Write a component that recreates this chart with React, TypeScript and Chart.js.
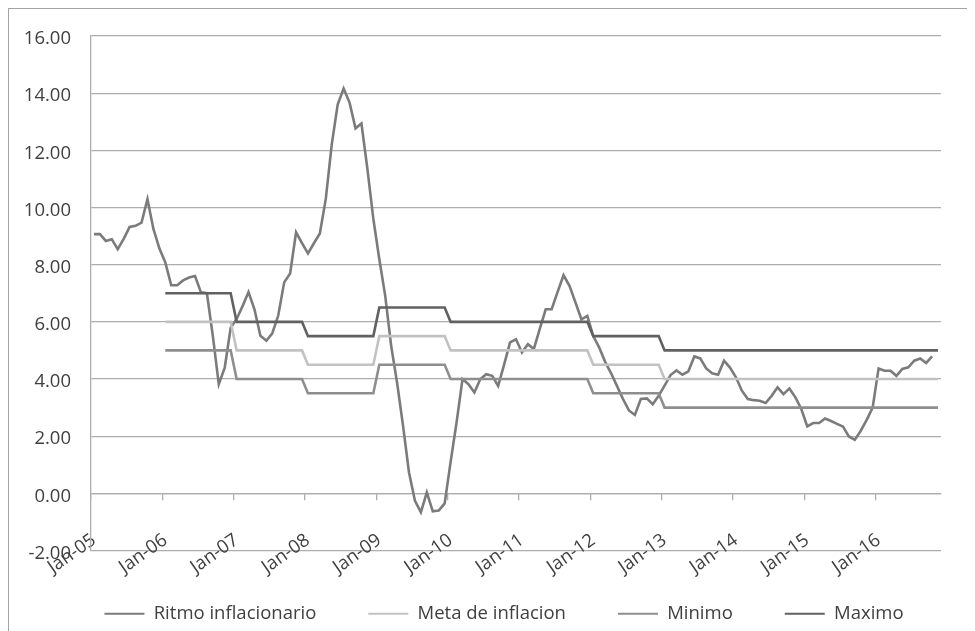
import React, { useEffect, useRef } from 'react';
import { Chart, registerables } from 'chart.js';

Chart.register(...registerables);

// Monthly categories, Jan-05 through Nov-16
const monthNames = ['Jan', 'Feb', 'Mar', 'Apr', 'May', 'Jun', 'Jul', 'Aug', 'Sep', 'Oct', 'Nov', 'Dec'];
const yearSuffixes = ['05', '06', '07', '08', '09', '10', '11', '12', '13', '14', '15', '16'];
const lastCategory = 'Nov-16';

const allMonths: string[] = [];
for (const yy of yearSuffixes) {
  for (const m of monthNames) allMonths.push(`${m}-${yy}`);
}
const categories = allMonths.slice(0, allMonths.indexOf(lastCategory) + 1);

// Interannual inflation rate (%), one value per month from Jan-05
const ritmoInflacionario = [
  9.07, 9.07, 8.83, 8.89, 8.54, 8.9, 9.32, 9.36, 9.47, 10.29, 9.25, 8.57, // 2005
  8.08, 7.28, 7.28, 7.45, 7.55, 7.6, 7.03, 7.0, 5.5, 3.82, 4.4, 5.79, // 2006
  6.1, 6.55, 7.04, 6.44, 5.51, 5.34, 5.6, 6.22, 7.38, 7.69, 9.13, 8.75, // 2007
  8.39, 8.75, 9.09, 10.3, 12.2, 13.6, 14.16, 13.67, 12.77, 12.94, 11.35, 9.6, // 2008
  8.2, 6.91, 5.16, 3.86, 2.36, 0.73, -0.26, -0.66, 0.03, -0.63, -0.6, -0.35, // 2009
  1.1, 2.48, 4.0, 3.82, 3.53, 4.0, 4.17, 4.11, 3.76, 4.5, 5.28, 5.39, // 2010
  4.93, 5.22, 5.05, 5.75, 6.44, 6.44, 7.05, 7.63, 7.26, 6.68, 6.09, 6.21, // 2011
  5.5, 5.1, 4.6, 4.2, 3.75, 3.3, 2.9, 2.74, 3.3, 3.32, 3.12, 3.41, // 2012
  3.77, 4.14, 4.3, 4.15, 4.27, 4.79, 4.72, 4.37, 4.2, 4.15, 4.64, 4.4, // 2013
  4.06, 3.59, 3.3, 3.26, 3.24, 3.16, 3.41, 3.71, 3.47, 3.67, 3.36, 2.95, // 2014
  2.34, 2.46, 2.46, 2.62, 2.53, 2.43, 2.34, 1.99, 1.87, 2.19, 2.57, 3.0, // 2015
  4.37, 4.29, 4.29, 4.11, 4.35, 4.41, 4.64, 4.72, 4.56, 4.79, // 2016
];

// Inflation target periods and their band values
const targetStarts = ['Jan-06', 'Jan-07', 'Jan-08', 'Jan-09', 'Jan-10', 'Jan-12', 'Jan-13'];
const metaTargets = [6, 5, 4.5, 5.5, 5, 4.5, 4];
const minimoTargets = [5, 4, 3.5, 4.5, 4, 3.5, 3];
const maximoTargets = [7, 6, 5.5, 6.5, 6, 5.5, 5];

// Y axis range and step
const yMin = -2;
const yMax = 16;
const yStep = 2;

function monthlyFromPeriods(values: number[]): (number | null)[] {
  const startIdx = targetStarts.map((s) => categories.indexOf(s));
  return categories.map((_, i) => {
    let v: number | null = null;
    startIdx.forEach((s, k) => {
      if (i >= s) v = values[k];
    });
    return v;
  });
}

const FONT = '"Open Sans", sans-serif';
const FONT_SIZE = 18.5;
const TEXT = '#404040';
const GRID = '#adadad';

// Nudges the legend row so it sits centred under the whole chart frame
const legendNudge = {
  id: 'legendNudge',
  afterLayout(chart: any) {
    const lg = chart.legend;
    if (!lg) return;
    const dx = 12;
    const dy = 2;
    lg.left += dx;
    lg.right += dx;
    lg.top += dy;
    lg.bottom += dy;
  },
};

export default function App() {
  const canvasRef = useRef<HTMLCanvasElement | null>(null);

  useEffect(() => {
    const canvas = canvasRef.current;
    if (!canvas) return;
    Chart.defaults.font.family = FONT;

    const lineStyle = (color: string) => ({
      borderColor: color,
      backgroundColor: color,
      borderWidth: 2.6,
      pointRadius: 0,
      pointHoverRadius: 0,
      tension: 0,
      fill: false,
    });

    const chart = new Chart(canvas, {
      type: 'line',
      data: {
        labels: categories,
        datasets: [
          { label: 'Ritmo inflacionario', data: ritmoInflacionario, ...lineStyle('#7b7b7b'), order: 4 },
          { label: 'Meta de inflacion', data: monthlyFromPeriods(metaTargets), ...lineStyle('#c2c2c2'), order: 3 },
          { label: 'Minimo', data: monthlyFromPeriods(minimoTargets), ...lineStyle('#8e8e8e'), order: 2 },
          { label: 'Maximo', data: monthlyFromPeriods(maximoTargets), ...lineStyle('#616161'), order: 1 },
        ],
      },
      plugins: [legendNudge],
      options: {
        responsive: false,
        animation: false,
        events: [],
        layout: { padding: { left: 0, right: 0, top: 27, bottom: 0 } },
        plugins: {
          legend: {
            position: 'bottom',
            labels: {
              boxWidth: 40,
              boxHeight: 2,
              padding: 52,
              color: TEXT,
              font: { family: FONT, size: FONT_SIZE },
              sort: (a: any, b: any) => a.datasetIndex - b.datasetIndex,
              generateLabels: (c: any) =>
                (Chart.defaults.plugins.legend.labels as any)
                  .generateLabels(c)
                  .map((item: any) => ({ ...item, fillStyle: item.strokeStyle, lineWidth: 0 })),
            },
          },
          tooltip: { enabled: false },
        },
        scales: {
          x: {
            type: 'category',
            position: { y: 0 } as any,
            offset: true,
            grid: {
              offset: true,
              drawOnChartArea: false,
              drawTicks: true,
              tickLength: 6,
              lineWidth: 1.3,
              tickColor: (ctx: any) =>
                typeof ctx.index === 'number' && ctx.index % 12 === 0 ? GRID : 'rgba(0,0,0,0)',
            },
            border: { display: true, color: GRID, width: 1.3 },
            ticks: {
              autoSkip: false,
              minRotation: 35,
              maxRotation: 35,
              padding: 30,
              color: TEXT,
              font: { family: FONT, size: FONT_SIZE },
              callback: (_value: any, index: number) => {
                const label = categories[index];
                return label && label.startsWith('Jan') ? label : '';
              },
            },
            afterFit: (scale: any) => {
              scale.paddingLeft = 0;
              scale.paddingRight = 0;
            },
          },
          y: {
            type: 'linear',
            position: 'left',
            min: yMin,
            max: yMax,
            grid: { color: GRID, lineWidth: 1.3, drawTicks: false },
            border: { display: true, color: GRID, width: 1.3 },
            ticks: {
              stepSize: yStep,
              padding: 20,
              labelOffset: 3,
              color: TEXT,
              font: { family: FONT, size: FONT_SIZE },
              callback: (v: any) => Number(v).toFixed(2),
            },
            afterFit: (scale: any) => {
              scale.width = 82;
              scale.paddingTop = 0;
              scale.paddingBottom = 0;
            },
          },
          yRightSpace: {
            axis: 'y',
            type: 'linear',
            position: 'right',
            display: true,
            grid: { display: false },
            border: { display: false },
            ticks: { display: false },
            afterFit: (scale: any) => {
              scale.width = 34;
              scale.paddingTop = 0;
              scale.paddingBottom = 0;
            },
          },
        },
      } as any,
    });

    return () => chart.destroy();
  }, []);

  return (
    <div
      style={{
        width: 967,
        height: 623,
        boxSizing: 'border-box',
        borderTop: '1px solid #a3a3a3',
        borderLeft: '1px solid #a3a3a3',
        overflow: 'hidden',
        background: '#ffffff',
      }}
    >
      <canvas ref={canvasRef} width={966} height={622} style={{ display: 'block' }} />
    </div>
  );
}
